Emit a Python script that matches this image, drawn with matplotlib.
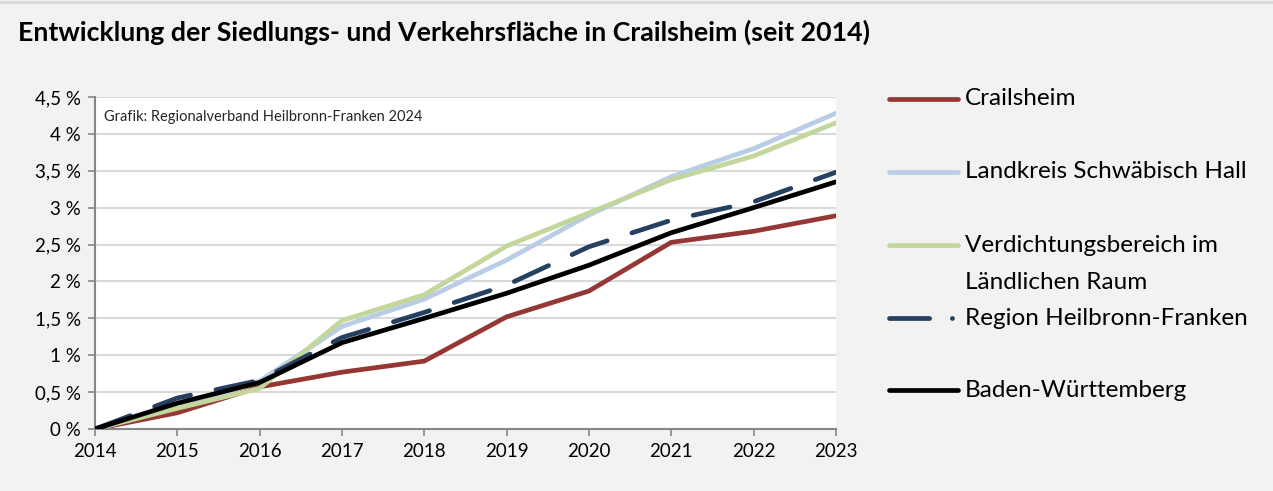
import matplotlib
matplotlib.use("Agg")
import matplotlib.pyplot as plt
from matplotlib.lines import Line2D
from matplotlib.ticker import FuncFormatter

plt.rcParams['font.family'] = ['Lato', 'DejaVu Sans']

years = [2014, 2015, 2016, 2017, 2018, 2019, 2020, 2021, 2022, 2023]

crailsheim = [0.0, 0.22, 0.57, 0.77, 0.92, 1.52, 1.87, 2.53, 2.68, 2.89]
landkreis = [0.0, 0.30, 0.65, 1.39, 1.76, 2.29, 2.90, 3.42, 3.80, 4.28]
verdichtung = [0.0, 0.28, 0.55, 1.47, 1.82, 2.48, 2.93, 3.38, 3.70, 4.15]
region_hnf = [0.0, 0.42, 0.66, 1.24, 1.58, 1.95, 2.47, 2.83, 3.08, 3.48]
baden_wuertt = [0.0, 0.35, 0.63, 1.17, 1.50, 1.84, 2.22, 2.66, 3.00, 3.35]

labels = ['Crailsheim', 'Landkreis Schwäbisch Hall',
          'Verdichtungsbereich im\nLändlichen Raum',
          'Region Heilbronn-Franken', 'Baden-Württemberg']
series = [crailsheim, landkreis, verdichtung, region_hnf, baden_wuertt]
colors = ['#953735', '#b9cde5', '#c3d69b', '#254061', '#000000']

bg = '#f2f2f2'
fig = plt.figure(figsize=(12.73, 4.91), dpi=100, facecolor=bg)
ax = fig.add_axes([0.0746, 0.1263, 0.5820, 0.6761])
ax.set_facecolor('white')

lw = 3.4
for vals, col, lab in zip(series, colors, labels):
    if lab.startswith('Region'):
        ax.plot(years, vals, color=col, lw=lw, dashes=(8, 5.5),
                dash_capstyle='round', zorder=3)
    else:
        ax.plot(years, vals, color=col, lw=lw, solid_capstyle='round',
                solid_joinstyle='round', zorder=3 if col == '#000000' else 2)

ax.set_xlim(2014, 2023)
ax.set_ylim(0, 4.5)
ax.set_xticks(years)
ax.set_yticks([i * 0.5 for i in range(10)])
ax.yaxis.set_major_formatter(FuncFormatter(
    lambda v, p: ('%g %%' % v).replace('.', ',')))
ax.grid(axis='y', color='#d9d9d9', lw=1.5)
ax.set_axisbelow(True)
for s in ['top', 'right']:
    ax.spines[s].set_visible(False)
for s in ['left', 'bottom']:
    ax.spines[s].set_color('#868686')
    ax.spines[s].set_linewidth(1.5)
ax.tick_params(axis='both', colors='#868686', length=5, width=1.2,
               labelcolor='black', labelsize=13.5)
ax.tick_params(axis='y', pad=5)
ax.tick_params(axis='x', pad=5)

ax.text(0.012, 0.94, 'Grafik: Regionalverband Heilbronn-Franken 2024',
        transform=ax.transAxes, fontsize=10.5, color='#262626', va='center')

fig.text(0.014, 0.935, 'Entwicklung der Siedlungs- und Verkehrsfläche in Crailsheim (seit 2014)',
         fontsize=19.3, fontweight='bold', va='center')

# legend drawn by hand to keep the wide spacing
leg_y = [0.7984, 0.6497, 0.5010, 0.3523, 0.2057]
for y, col, lab in zip(leg_y, colors, labels):
    if lab.startswith('Region'):
        fig.add_artist(Line2D([0.698, 0.7525], [y, y], color=col, lw=lw,
                              dashes=(8.5, 4.8, 0.05, 10),
                              dash_capstyle='round'))
    else:
        fig.add_artist(Line2D([0.698, 0.7525], [y, y], color=col, lw=lw,
                              solid_capstyle='round'))
    if '\n' in lab:
        first, second = lab.split('\n')
        fig.text(0.758, y, first, fontsize=17.5, va='center')
        fig.text(0.758, y - 0.077, second, fontsize=17.5, va='center')
    else:
        fig.text(0.758, y, lab, fontsize=17.5, va='center')

fig.add_artist(Line2D([0, 1], [0.995, 0.995], color='#d9d9d9', lw=2))

fig.savefig('out.png', dpi=100, facecolor=bg)
